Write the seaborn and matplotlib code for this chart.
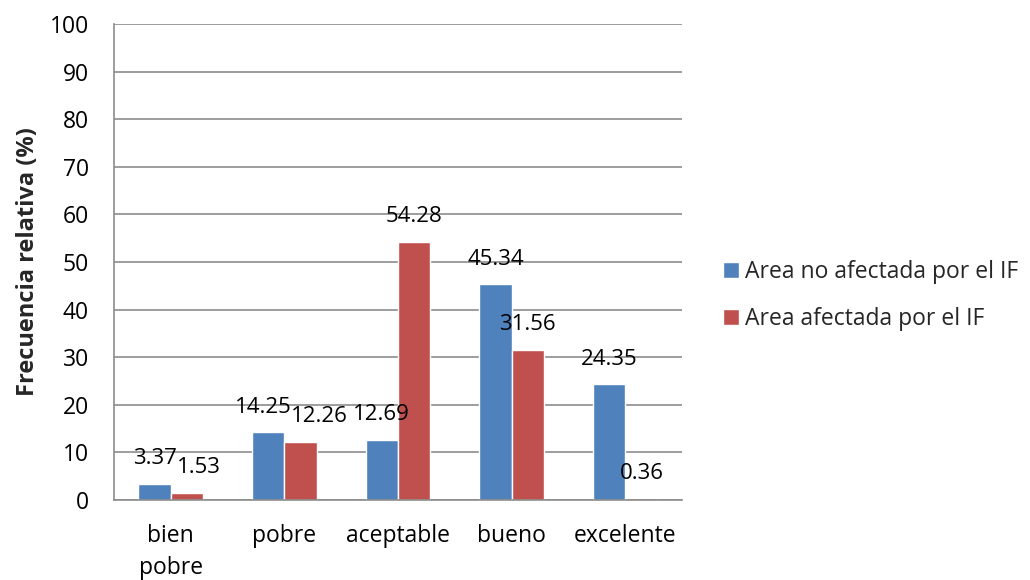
import pandas as pd
import matplotlib.pyplot as plt
import seaborn as sns

categorias = ['bien\npobre', 'pobre', 'aceptable', 'bueno', 'excelente']
no_afectada = [3.37, 14.25, 12.69, 45.34, 24.35]
afectada = [1.53, 12.26, 54.28, 31.56, 0.36]
series = ['Area no afectada por el IF', 'Area afectada por el IF']

df = pd.DataFrame({
    'categoria': categorias * 2,
    'valor': no_afectada + afectada,
    'serie': [series[0]] * 5 + [series[1]] * 5,
})

sns.set_style('white')
plt.rcParams['font.family'] = ['Open Sans', 'DejaVu Sans']

fig = plt.figure(figsize=(10.3, 5.8), dpi=100)
ax = fig.add_axes([0.1107, 0.138, 0.5515, 0.8206])
sns.barplot(data=df, x='categoria', y='valor', hue='serie', order=categorias,
            hue_order=series, palette=['#4F81BD', '#C0504D'], width=0.57,
            gap=0, ax=ax, saturation=1)

# small horizontal nudges (px) used by the original labels
nudges = [[0, -5, 0, 0, 0], [12, 19, 0, 0, 0]]
for i, cont in enumerate(ax.containers):
    for j, bar in enumerate(cont):
        h = bar.get_height()
        ax.annotate(f'{h:.2f}', (bar.get_x() + bar.get_width() / 2, h),
                    xytext=(nudges[i][j], 25), textcoords='offset pixels',
                    ha='center', va='center', fontsize=16, color='black')

ax.set_ylim(0, 100)
ax.set_yticks(range(0, 101, 10))
ax.grid(axis='y', color='#8c8c8c', linewidth=1.2)
ax.set_axisbelow(True)
for s in ['top', 'right']:
    ax.spines[s].set_visible(False)
for s in ['left', 'bottom']:
    ax.spines[s].set_color('#8c8c8c')
    ax.spines[s].set_linewidth(1.2)
ax.tick_params(axis='both', length=0, labelsize=16.5, colors='black')
ax.tick_params(axis='y', pad=18)
ax.tick_params(axis='x', pad=17)
for t in ax.get_xticklabels():
    t.set_linespacing(1.45)
ax.set_xlabel('')
ax.set_ylabel('Frecuencia relativa (%)', fontsize=17, fontweight='bold', labelpad=7)

ax.legend(loc='center left', bbox_to_anchor=(1.035, 0.43), frameon=False,
          fontsize=16.5, handlelength=0.7, handleheight=0.7,
          handletextpad=0.3, labelspacing=1.0)

fig.savefig('out.png', dpi=100)
